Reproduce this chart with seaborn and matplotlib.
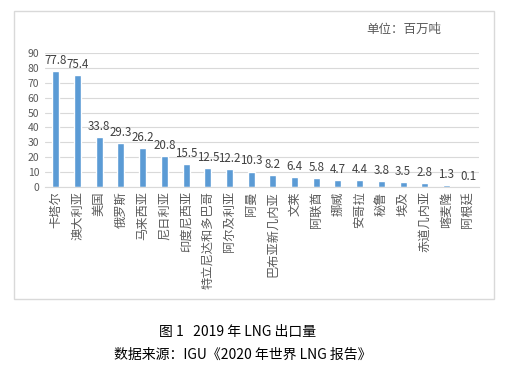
import matplotlib
matplotlib.use("Agg")
import matplotlib.pyplot as plt
import seaborn as sns
import pandas as pd

countries = ["卡塔尔", "澳大利亚", "美国", "俄罗斯", "马来西亚", "尼日利亚", "印度尼西亚",
             "特立尼达和多巴哥", "阿尔及利亚", "阿曼", "巴布亚新几内亚", "文莱", "阿联酋",
             "挪威", "安哥拉", "秘鲁", "埃及", "赤道几内亚", "喀麦隆", "阿根廷"]
exports = [77.8, 75.4, 33.8, 29.3, 26.2, 20.8, 15.5, 12.5, 12.2, 10.3, 8.2, 6.4, 5.8,
           4.7, 4.4, 3.8, 3.5, 2.8, 1.3, 0.1]
yticks = list(range(0, 100, 10))

df = pd.DataFrame({"country": countries, "value": exports})

sns.set_style("white")
plt.rcParams["font.family"] = ["Noto Sans CJK SC", "DejaVu Sans"]

fig = plt.figure(figsize=(5.05, 3.68), dpi=100)

# chart frame
frame = plt.Rectangle((14 / 505, 1 - 299 / 368), 480 / 505, 288 / 368,
                      transform=fig.transFigure, fill=False, edgecolor="#D9D9D9", lw=1)
fig.add_artist(frame)

ax = fig.add_axes([45 / 505, 1 - 187 / 368, 434 / 505, 134 / 368])
sns.barplot(data=df, x="country", y="value", color="#5B9BD5", width=0.32,
            saturation=1, ax=ax)

ax.set_ylim(0, 90)
ax.set_xlim(-0.5, len(countries) - 0.5)
ax.set_yticks(yticks)
ax.yaxis.grid(True, color="#D9D9D9", lw=0.8)
ax.set_axisbelow(True)
for s in ["top", "right", "left"]:
    ax.spines[s].set_visible(False)
ax.spines["bottom"].set_color("#D9D9D9")
ax.tick_params(axis="both", length=0, colors="#595959")
ax.tick_params(axis="y", labelsize=7.5, pad=4)
ax.tick_params(axis="x", labelsize=8.8, pad=3)
ax.set_xticks(range(len(countries)))
ax.set_xticklabels(countries, rotation=90, va="top", ha="center")
ax.set_xlabel("")
ax.set_ylabel("")

for i, v in enumerate(exports):
    ax.annotate(f"{v}", (i, v), xytext=(0, 3), textcoords="offset points",
                ha="center", va="bottom", fontsize=8.3, color="#404040")

fig.text(404 / 505, 1 - 29 / 368, "单位：百万吨", ha="center", va="center",
         fontsize=9, color="#595959")

fig.text(0.47, 1 - 332 / 368, "图 1   2019 年 LNG 出口量", ha="center", va="center",
         fontsize=10, color="black")
fig.text(0.48, 1 - 355 / 368, "数据来源：IGU《2020 年世界 LNG 报告》", ha="center",
         va="center", fontsize=10, color="black")

fig.savefig("out.png", dpi=100)
